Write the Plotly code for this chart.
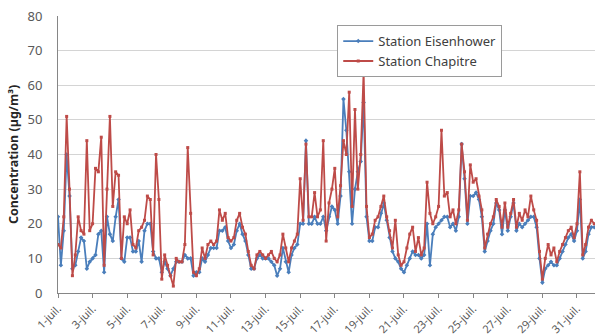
import pandas as pd
import plotly.graph_objects as go

# Concentrations sampled every 4 hours, 1 July 00:00 to 1 August 00:00 (µg/m³)
chapitre = [
    14, 13, 22, 51, 30, 5,      # 1 juil.
    11, 22, 18, 17, 44, 18,     # 2
    20, 36, 35, 45, 8, 30,      # 3
    51, 25, 35, 34, 10, 22,     # 4
    20, 24, 14, 13, 18, 19,     # 5
    21, 28, 27, 11, 40, 27,     # 6
    4, 11, 8, 5, 2, 10,         # 7
    9, 9, 14, 42, 23, 6,        # 8
    5, 7, 13, 10, 14, 15,       # 9
    14, 15, 24, 21, 23, 16,     # 10
    15, 16, 21, 23, 19, 17,     # 11
    12, 8, 7, 11, 12, 11,       # 12
    10, 11, 12, 10, 9, 11,      # 13
    17, 13, 9, 13, 15, 17,      # 14
    33, 21, 43, 22, 22, 29,     # 15
    22, 24, 44, 15, 26, 30,     # 16
    36, 22, 31, 44, 40, 58,     # 17
    25, 53, 30, 40, 64, 25,     # 18
    16, 17, 21, 22, 25, 28,     # 19
    22, 18, 13, 21, 11, 8,      # 20
    9, 13, 17, 19, 12, 16,      # 21
    11, 13, 32, 23, 20, 22,     # 22
    25, 47, 28, 29, 22, 24,     # 23
    20, 24, 43, 35, 21, 37,     # 24
    32, 33, 28, 24, 13, 17,     # 25
    20, 22, 27, 25, 19, 26,     # 26
    19, 23, 27, 19, 23, 21,     # 27
    24, 22, 28, 24, 21, 12,     # 28
    4, 10, 14, 11, 13, 9,       # 29
    12, 14, 16, 18, 19, 16,     # 30
    20, 35, 11, 14, 19, 21,     # 31
    20,
]
eisenhower = [
    22, 8, 18, 40, 28, 7,
    8, 12, 16, 15, 7, 9,
    10, 11, 17, 18, 6, 22,
    17, 15, 22, 27, 10, 9,
    16, 16, 12, 12, 15, 9,
    18, 20, 20, 12, 10, 10,
    6, 9, 7, 5, 7, 9,
    9, 9, 11, 10, 10, 5,
    6, 6, 10, 9, 11, 13,
    13, 13, 18, 18, 19, 15,
    13, 14, 18, 20, 17, 15,
    11, 7, 7, 10, 11, 10,
    10, 10, 9, 8, 5, 7,
    13, 9, 6, 11, 13, 14,
    20, 20, 44, 20, 20, 22,
    20, 20, 22, 18, 22, 25,
    24, 20, 28, 56, 47, 35,
    20, 30, 35, 38, 55, 22,
    15, 15, 19, 19, 23, 26,
    21, 16, 12, 10, 9, 7,
    6, 8, 10, 12, 11, 11,
    10, 11, 20, 8, 17, 19,
    20, 21, 22, 22, 19, 20,
    18, 22, 43, 33, 20, 28,
    28, 29, 27, 22, 12, 15,
    18, 20, 26, 24, 17, 24,
    18, 22, 26, 18, 20, 19,
    20, 21, 22, 22, 19, 10,
    3, 7, 8, 9, 8, 8,
    10, 12, 14, 16, 17, 15,
    18, 27, 10, 12, 17, 19,
    19,
]
times = pd.date_range("2011-07-01 00:00", periods=len(chapitre), freq="4h")

tick_dates = pd.date_range("2011-07-01", "2011-07-31", freq="2D")
tick_labels = [f"{d.day}-juil." for d in tick_dates]

BLUE = "#4a7ebb"
RED = "#be4b48"
FONT = "Noto Sans"

fig = go.Figure()
fig.add_trace(go.Scatter(
    x=times, y=eisenhower, name="Station Eisenhower", mode="lines+markers",
    line=dict(color=BLUE, width=1.8),
    marker=dict(symbol="diamond", size=3.5, color=BLUE),
))
fig.add_trace(go.Scatter(
    x=times, y=chapitre, name="Station Chapitre", mode="lines+markers",
    line=dict(color=RED, width=1.8),
    marker=dict(symbol="square", size=3, color=RED),
))

fig.update_layout(
    width=595, height=335,
    margin=dict(l=58, r=0, t=16, b=42),
    paper_bgcolor="white", plot_bgcolor="white",
    font=dict(family=FONT, size=12, color="#595959"),
    showlegend=True,
    legend=dict(
        x=0.52, y=0.967, xanchor="left", yanchor="top",
        bgcolor="white", bordercolor="#9a9a9a", borderwidth=1,
        font=dict(family=FONT, size=13, color="#404040"),
        itemwidth=30, tracegroupgap=0,
    ),
)
fig.update_xaxes(
    range=["2011-07-01 00:00", "2011-08-01 01:00"],
    tickmode="array", tickvals=tick_dates, ticktext=tick_labels,
    tickangle=-45, ticks="outside", ticklen=4, tickcolor="#868686",
    showline=True, linecolor="#868686", linewidth=1,
    showgrid=False, zeroline=False,
    tickfont=dict(family=FONT, size=11, color="#595959"),
)
fig.update_yaxes(
    range=[0, 80], dtick=10,
    showgrid=True, gridcolor="#d4d4d4", gridwidth=1,
    showline=True, linecolor="#868686", linewidth=1,
    zeroline=False, ticks="", ticklabelstandoff=12,
    tickfont=dict(family=FONT, size=13, color="#595959"),
    title=dict(text="<b>Concentration (µg/m³)</b>",
               font=dict(family=FONT, size=12.5, color="#262626"), standoff=6),
)

fig.write_html("out.html")
